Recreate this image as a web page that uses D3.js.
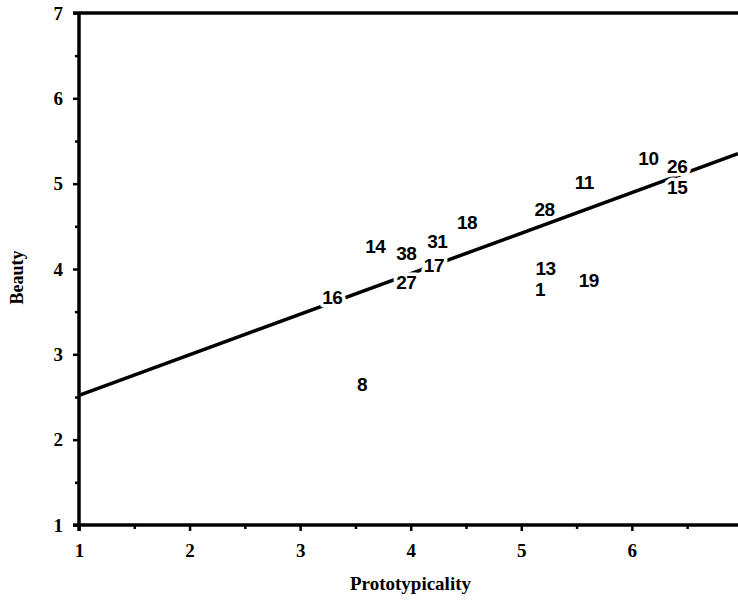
<!DOCTYPE html>
<html>
<head>
<meta charset="utf-8">
<script src="https://cdn.jsdelivr.net/npm/d3@7"></script>
<style>
    body { margin: 0; background: white; }
</style>
</head>
<body>
<div id="chart"></div>
<script>
// values
let labels = ["8", "16", "14", "38", "31", "18", "27", "17", "28", "11", "10", "26", "15", "13", "1", "19"];
let proto = [3.56, 3.29, 3.68, 3.96, 4.24, 4.51, 3.96, 4.21, 5.21, 5.57, 6.15, 6.41, 6.41, 5.22, 5.17, 5.61];
let beauty = [2.65, 3.67, 4.27, 4.19, 4.33, 4.55, 3.85, 4.04, 4.70, 5.02, 5.30, 5.21, 4.96, 4.01, 3.76, 3.87];

// regression line  beauty = a + b * proto
let fitA = 2.045,
    fitB = 0.475;

let xTicks = [1, 2, 3, 4, 5, 6];
let yTicks = [1, 2, 3, 4, 5, 6, 7];

let width = 738,
    height = 601,
    margin = {top: 13, right: 0, bottom: 76, left: 79};

let svg = d3.select("#chart")
    .append("svg")
    .attr("width", width)
    .attr("height", height)

let x = d3.scaleLinear()
    .domain([1, 6.96])
    .range([margin.left, width - margin.right]);

let y = d3.scaleLinear()
    .domain([1, 7])
    .range([height - margin.bottom, margin.top]);

// minor ticks at the half units
let xMinor = d3.range(1.5, 7, 1);
let yMinor = d3.range(1.5, 7, 1);

svg.append("g")
    .attr("transform", "translate(0," + y(1) + ")")
    .call(d3.axisBottom(x).tickValues(xMinor).tickSize(4).tickFormat(""))
    .call(g => g.select(".domain").remove())
    .selectAll("line")
    .style("stroke", "black")
    .style("stroke-width", 2.5)

svg.append("g")
    .attr("transform", "translate(" + x(1) + ",0)")
    .call(d3.axisLeft(y).tickValues(yMinor).tickSize(4).tickFormat(""))
    .call(g => g.select(".domain").remove())
    .selectAll("line")
    .style("stroke", "black")
    .style("stroke-width", 2.5)

let xAxis = svg.append("g")
    .attr("transform", "translate(0," + y(1) + ")")
    .call(d3.axisBottom(x).tickValues(xTicks).tickSize(6).tickPadding(13).tickFormat(d3.format("d")))

xAxis.select(".domain")
    .attr("d", "M" + (x(1) - 6) + ",0H" + width)
    .style("stroke", "black")
    .style("stroke-width", 3.5)

xAxis.selectAll("line")
    .style("stroke", "black")
    .style("stroke-width", 2.5)

xAxis.selectAll("text")
    .style("font-family", "'Liberation Serif', 'Times New Roman', serif")
    .style("font-weight", 700)
    .style("font-size", "19px")
    .style("fill", "black")

let yAxis = svg.append("g")
    .attr("transform", "translate(" + x(1) + ",0)")
    .call(d3.axisLeft(y).tickValues(yTicks).tickSize(6).tickPadding(10).tickFormat(d3.format("d")))

yAxis.select(".domain")
    .attr("d", "M0," + (y(1) + 6) + "V" + y(7))
    .style("stroke", "black")
    .style("stroke-width", 3.5)

yAxis.selectAll("line")
    .style("stroke", "black")
    .style("stroke-width", 2.5)

yAxis.selectAll("text")
    .style("font-family", "'Liberation Serif', 'Times New Roman', serif")
    .style("font-weight", 700)
    .style("font-size", "19px")
    .style("fill", "black")

// top frame line
svg.append("line")
    .attr("x1", x(1) - 6)
    .attr("x2", width)
    .attr("y1", y(7))
    .attr("y2", y(7))
    .style("stroke", "black")
    .style("stroke-width", 3.5)

// fitted line
let xd = x.domain();
svg.append("line")
    .attr("x1", x(xd[0]))
    .attr("y1", y(fitA + fitB * xd[0]))
    .attr("x2", x(xd[1]))
    .attr("y2", y(fitA + fitB * xd[1]))
    .style("stroke", "black")
    .style("stroke-width", 3.5)

// point labels, white halo breaks the line like in the original
svg.append("g")
    .selectAll("text")
    .data(labels)
    .enter()
    .append("text")
    .attr("x", (d, i) => x(proto[i]))
    .attr("y", (d, i) => y(beauty[i]))
    .attr("dy", "0.36em")
    .text(d => d)
    .style("text-anchor", "middle")
    .style("font-family", "'Liberation Sans', Arial, sans-serif")
    .style("font-weight", 700)
    .style("font-size", "19px")
    .style("letter-spacing", "-0.5px")
    .style("fill", "black")
    .style("stroke", "white")
    .style("stroke-width", 7)
    .style("paint-order", "stroke")
    .style("stroke-linejoin", "round")

svg.append("text")
    .attr("x", (x(1) + width) / 2 + 2)
    .attr("y", 590)
    .text("Prototypicality")
    .style("text-anchor", "middle")
    .style("font-family", "'Liberation Serif', 'Times New Roman', serif")
    .style("font-weight", 700)
    .style("font-size", "19px")
    .style("fill", "black")

svg.append("text")
    .attr("transform", "translate(23," + y(3.9) + ") rotate(-90)")
    .text("Beauty")
    .style("text-anchor", "middle")
    .style("font-family", "'Liberation Serif', 'Times New Roman', serif")
    .style("font-weight", 700)
    .style("font-size", "18px")
    .style("fill", "black")
</script>
</body>
</html>
